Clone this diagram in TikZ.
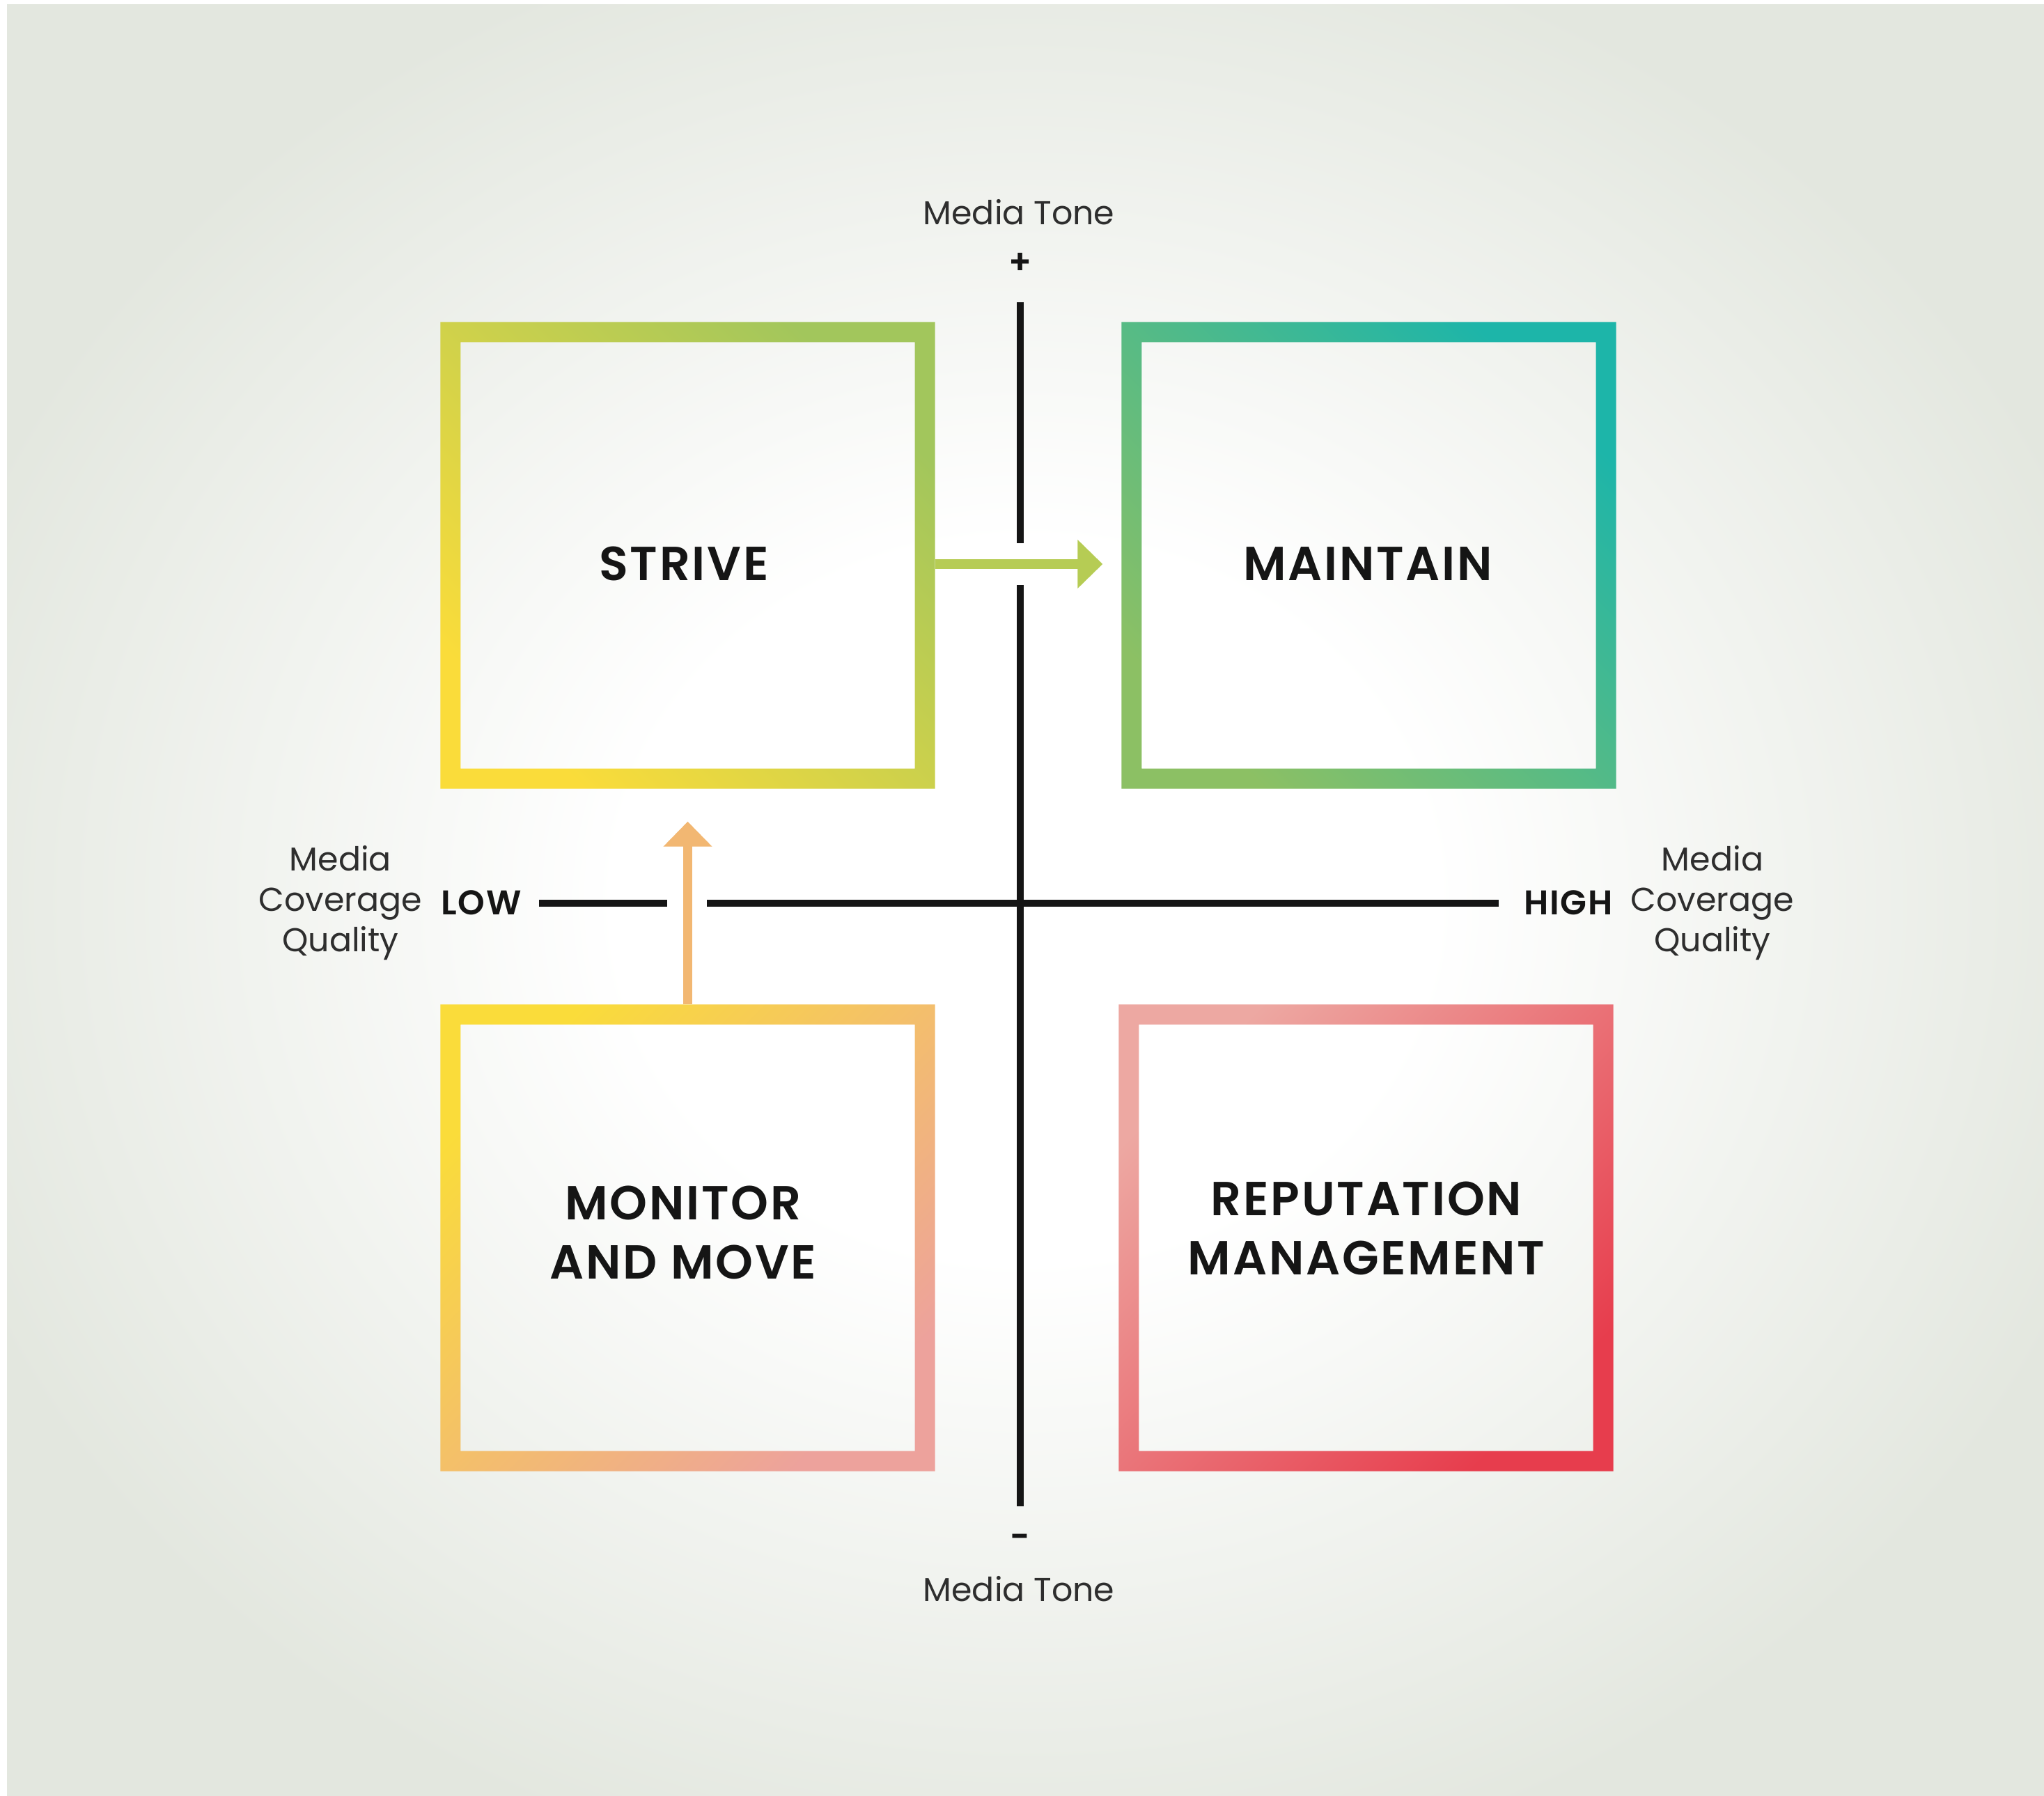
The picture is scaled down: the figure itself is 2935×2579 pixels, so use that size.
\documentclass[tikz,border=0pt]{standalone}
\usepackage{fontspec}
\setmainfont{Poppins}[BoldFont={Poppins SemiBold}]
\usetikzlibrary{arrows.meta,calc}

\definecolor{bggray}{HTML}{E3E7DF}
\definecolor{ink}{HTML}{151515}
\definecolor{labelink}{HTML}{2E2E2E}
\definecolor{cyellow}{HTML}{FADC3A}
\definecolor{clime}{HTML}{A2C65C}
\definecolor{cgreen}{HTML}{8CC064}
\definecolor{cteal}{HTML}{1DB5A9}
\definecolor{cpeach}{HTML}{EDA29C}
\definecolor{cpink}{HTML}{EDA8A2}
\definecolor{cred}{HTML}{E73D4D}
\definecolor{arrowgreen}{HTML}{B6CC54}
\definecolor{arroworange}{HTML}{F2B772}

\pgfdeclareradialshading{bgglow}{\pgfpoint{0bp}{0bp}}{%
  color(0bp)=(white); color(10bp)=(white); color(28bp)=(bggray); color(50bp)=(bggray)}

\tikzset{
  quad/.style={minimum width=7.10cm, minimum height=6.70cm, inner sep=0pt, outer sep=0pt},
  quadtitle/.style={font=\fontsize{19.5}{24}\selectfont\bfseries\addfontfeatures{LetterSpace=4}, text=ink, align=center},
  axislabel/.style={font=\fontsize{13.5}{16.5}\selectfont, text=labelink, align=center},
  endlabel/.style={font=\fontsize{14}{16}\selectfont\bfseries\addfontfeatures{LetterSpace=4}, text=ink},
  axisline/.style={line width=0.10cm, ink},
  moveline/.style={line width=0.13cm, -{Triangle[length=0.36cm, width=0.68cm]}},
}

% ring between the outer border of a quadrant node and an inset copy of it
\newcommand{\quadframe}[2]{%
  \shade[even odd rule, #2]
    (#1.north west) rectangle (#1.south east)
    ($(#1.north west)+(0.29cm,-0.29cm)$) rectangle ($(#1.south east)+(-0.29cm,0.29cm)$);}

\begin{document}
\begin{tikzpicture}[x=0.01cm, y=-0.01cm]
  \useasboundingbox (0,0) rectangle (2935,2579);
  \fill[white] (0,0) rectangle (2935,2579);
  \shade[shading=bgglow] (10,7) rectangle (2935,2579);

  % quadrants
  \node[quad] (strive)   at (987.5,797.5)  {};
  \node[quad] (maintain) at (1965.5,797.5) {};
  \node[quad] (monitor)  at (987.5,1777.5) {};
  \node[quad] (reput)    at (1961.5,1777.5) {};

  % (the y axis points down here, so the shading angles are mirrored)
  \quadframe{strive}{left color=clime, right color=cyellow, shading angle=-45}
  \quadframe{maintain}{left color=cteal, right color=cgreen, shading angle=-45}
  \quadframe{monitor}{left color=cyellow, right color=cpeach, shading angle=45}
  \quadframe{reput}{left color=cpink, right color=cred, shading angle=45}

  \node[quadtitle] (tstrive)   at (982,809)  {STRIVE};
  \node[quadtitle] (tmaintain) at (1964,810) {MAINTAIN};
  \node[quadtitle] (tmonitor)  at (981,1770) {MONITOR\\AND MOVE};
  \node[quadtitle] (treput)    at (1962,1764) {REPUTATION\\MANAGEMENT};

  % axes
  \coordinate (vtop) at (1465,434);
  \coordinate (vgapa) at (1465,780);
  \coordinate (vgapb) at (1465,840);
  \coordinate (vbot) at (1465,2163);
  \coordinate (hleft) at (774,1297);
  \coordinate (hgapa) at (958,1297);
  \coordinate (hgapb) at (1015,1297);
  \coordinate (hright) at (2152,1297);
  \draw[axisline] (vtop) -- (vgapa);
  \draw[axisline] (vgapb) -- (vbot);
  \draw[axisline] (hleft) -- (hgapa);
  \draw[axisline] (hgapb) -- (hright);

  % axis labels
  \node[axislabel] (tonetop) at (1463,305) {Media Tone};
  \node[endlabel] (plus) at (1465,378) {+};
  \node[endlabel] (minus) at (1465,2213) {-};
  \node[axislabel] (tonebot) at (1463,2282) {Media Tone};
  \node[endlabel] (low) at (691,1296) {LOW};
  \node[endlabel] (high) at (2252,1296) {HIGH};
  \node[axislabel] (qleft) at (489,1297) {Media\\Coverage\\Quality};
  \node[axislabel] (qright) at (2459,1297) {Media\\Coverage\\Quality};

  % moves between quadrants
  \draw[moveline, arrowgreen, shorten >=0.27cm]
    ($(strive.east)+(0,12.5)$) -- ($(strive.east -| maintain.west)+(0,12.5)$);
  \draw[moveline, arroworange, shorten >=0.47cm] (monitor.north) -- (strive.south);
\end{tikzpicture}
\end{document}
